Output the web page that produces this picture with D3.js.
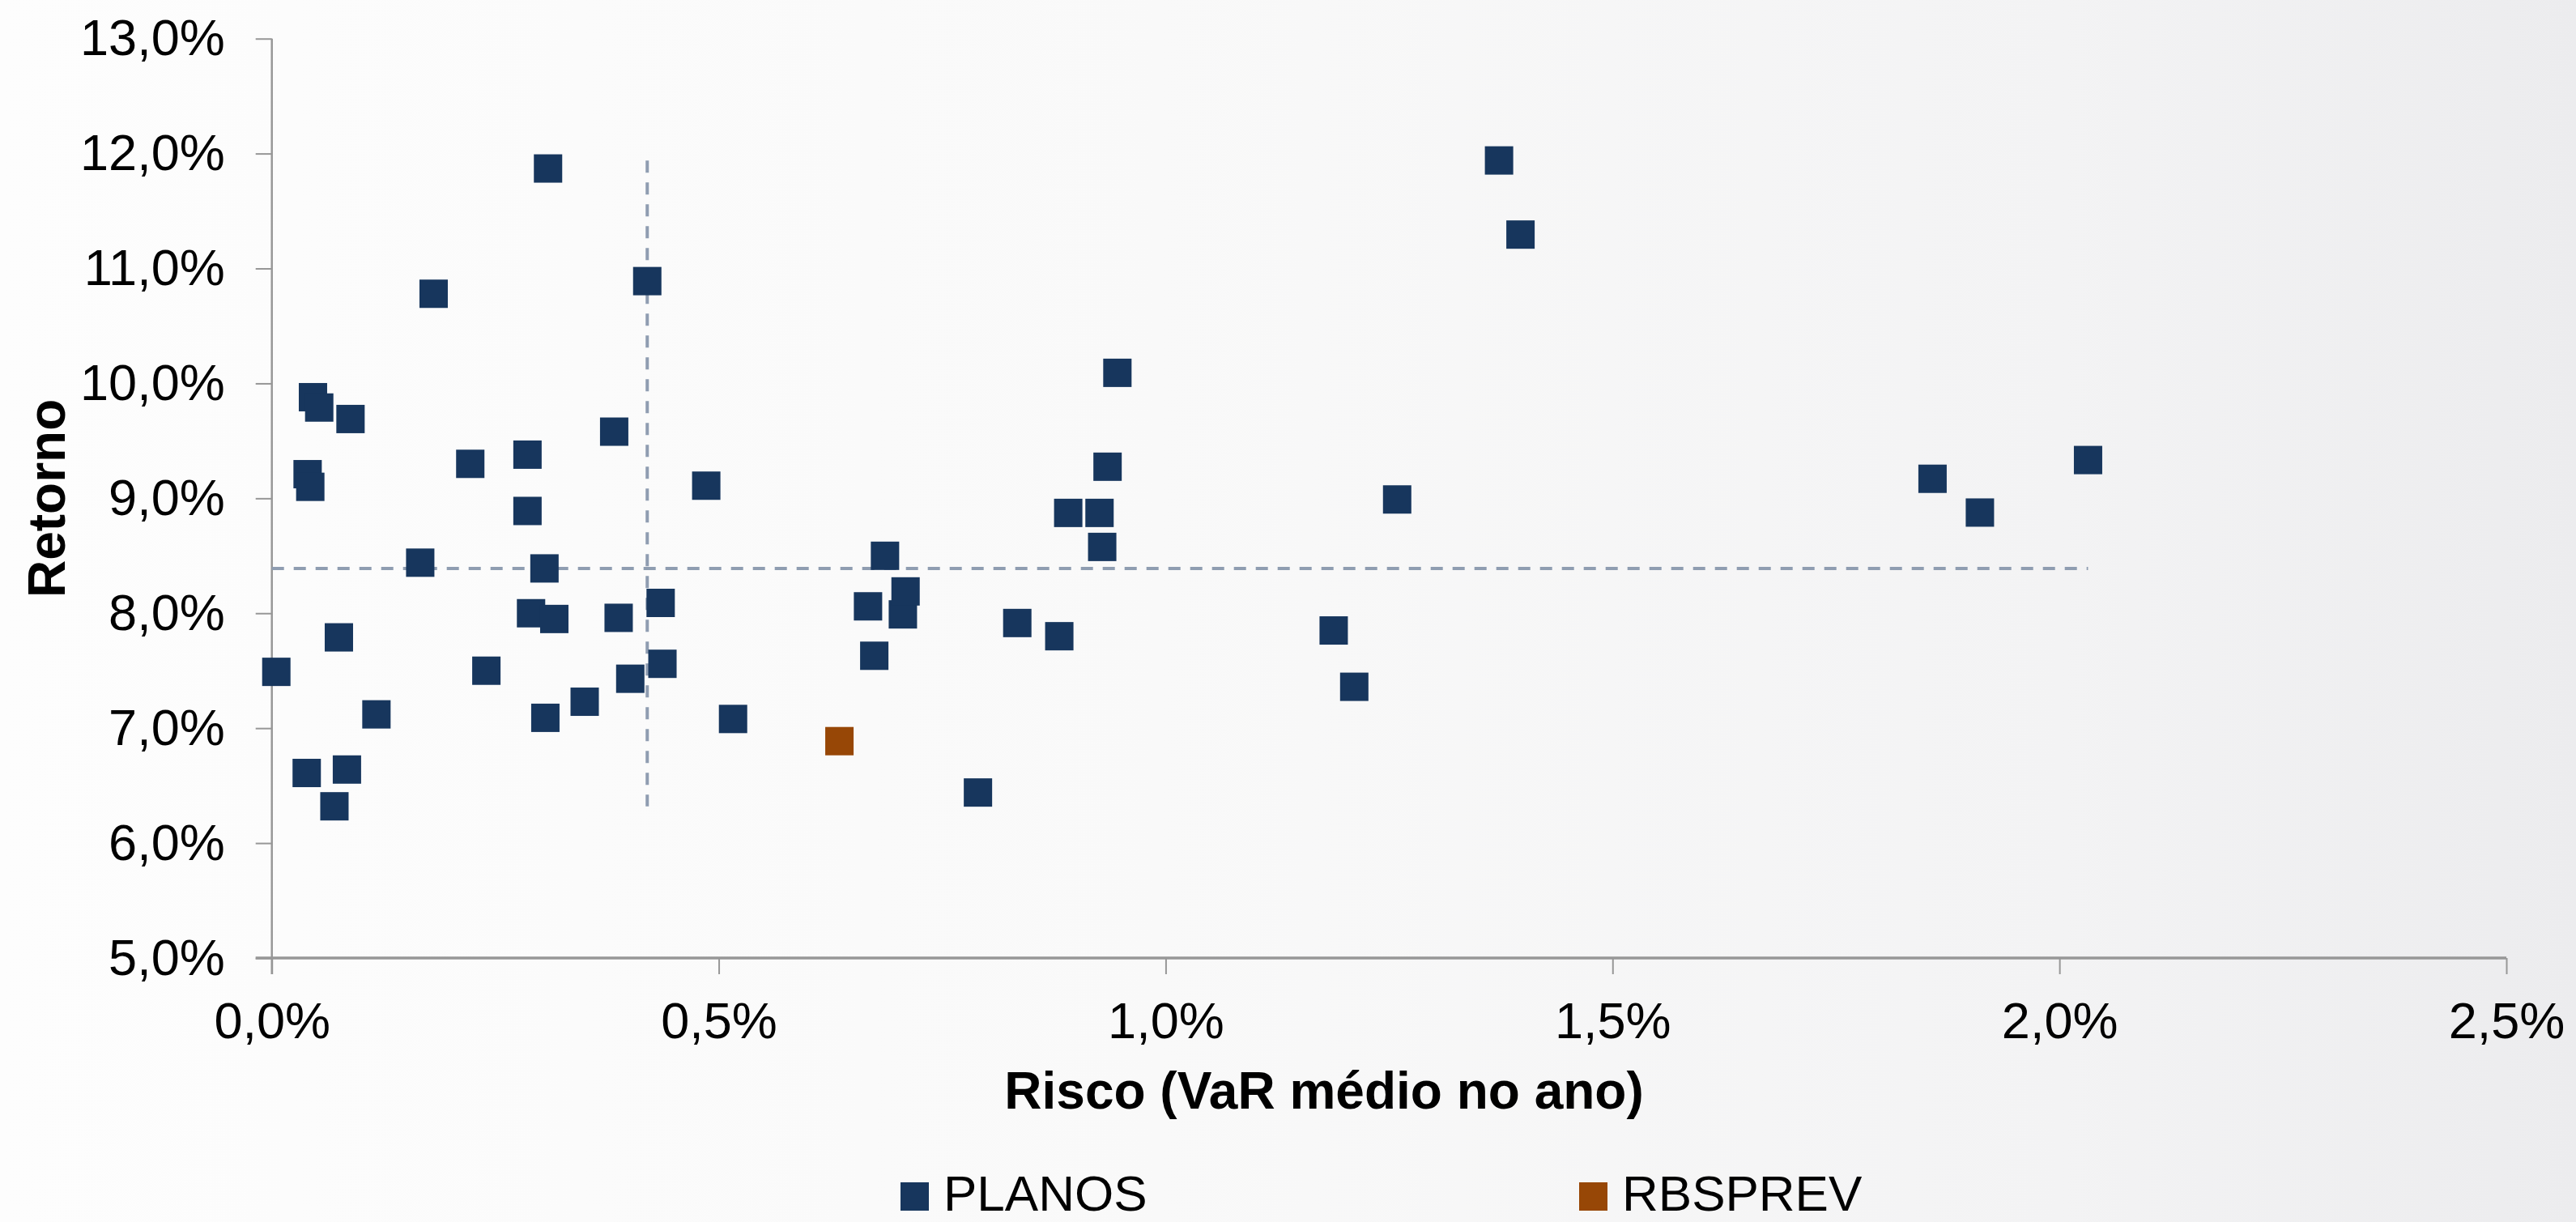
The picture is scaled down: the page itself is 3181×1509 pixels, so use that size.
<!DOCTYPE html>
<html>
<head>
<meta charset="utf-8">
<script src="https://cdn.jsdelivr.net/npm/d3@7"></script>
<style>
  html, body { margin: 0; padding: 0; background: #fcfcfc; }
  svg { display: block; }
  text { font-family: "Liberation Sans", Arial, sans-serif; fill: #000; }
</style>
</head>
<body>
<svg id="chart" width="3181" height="1509"></svg>
<script>
// ---- Data (risk = VaR médio no ano, %, return = Retorno, %) ----
const planosRisk = [
  0.005, 0.039, 0.040, 0.043, 0.046, 0.053, 0.070, 0.075, 0.084, 0.088,
  0.117, 0.166, 0.181, 0.222, 0.240, 0.286, 0.286, 0.290, 0.305, 0.306,
  0.309, 0.316, 0.350, 0.383, 0.388, 0.401, 0.420, 0.435, 0.437, 0.486,
  0.516, 0.667, 0.674, 0.686, 0.706, 0.709, 0.790, 0.834, 0.881, 0.891,
  0.926, 0.929, 0.935, 0.946, 1.188, 1.211, 1.259, 1.373, 1.397, 1.858,
  1.911, 2.032
];
const planosReturn = [
  7.49, 6.61, 9.21, 9.10, 9.88, 9.79, 6.32, 7.79, 6.64, 9.69,
  7.12, 8.44, 10.78, 9.30, 7.50, 9.38, 8.89, 8.00, 8.39, 7.09,
  11.87, 7.95, 7.23, 9.58, 7.96, 7.43, 10.89, 8.09, 7.56, 9.11,
  7.08, 8.06, 7.63, 8.50, 7.99, 8.19, 6.44, 7.915, 7.80, 8.873,
  8.873, 8.577, 9.275, 10.092, 7.85, 7.36, 8.99, 11.94, 11.295, 9.17,
  8.876, 9.333
];
const rbsprevRisk = [0.635];
const rbsprevReturn = [6.887];

const seriesNames = ["PLANOS", "RBSPREV"];
const seriesColors = ["#17365d", "#974706"];

// reference (dashed) lines
const refRisk = 0.42;
const refReturn = 8.39;

const xTicks = [0, 0.5, 1.0, 1.5, 2.0, 2.5];
const yTicks = [5, 6, 7, 8, 9, 10, 11, 12, 13];
const xTitle = "Risco (VaR médio no ano)";
const yTitle = "Retorno";

// ---- Layout ----
const W = 3181, H = 1509;
const plot = { left: 335.7, right: 3095, top: 47.7, bottom: 1183 };
const fmt = v => d3.format(".1f")(v).replace(".", ",") + "%";

const svg = d3.select("#chart");

// background gradient
const defs = svg.append("defs");
const grad = defs.append("linearGradient").attr("id", "bg")
  .attr("x1", "0").attr("y1", "0").attr("x2", "1").attr("y2", "0");
grad.append("stop").attr("offset", "0").attr("stop-color", "#fdfdfd");
grad.append("stop").attr("offset", "0.45").attr("stop-color", "#f9f9f9");
grad.append("stop").attr("offset", "0.8").attr("stop-color", "#f3f3f4");
grad.append("stop").attr("offset", "1").attr("stop-color", "#ececee");
svg.append("rect").attr("width", W).attr("height", H).attr("fill", "url(#bg)");

const x = d3.scaleLinear().domain([0, 2.5]).range([plot.left, plot.right]);
const y = d3.scaleLinear().domain([5, 13]).range([plot.bottom, plot.top]);

// axes
const axisColor = "#979797";
const xAxis = svg.append("g")
  .attr("transform", `translate(0,${plot.bottom})`)
  .call(d3.axisBottom(x).tickValues(xTicks).tickFormat(fmt)
        .tickSizeInner(20).tickSizeOuter(0).tickPadding(34));
const yAxis = svg.append("g")
  .attr("transform", `translate(${plot.left},0)`)
  .call(d3.axisLeft(y).tickValues(yTicks).tickFormat(fmt)
        .tickSizeInner(20).tickSizeOuter(0).tickPadding(38));

[xAxis, yAxis].forEach(g => {
  g.selectAll(".tick line").attr("stroke", axisColor).attr("stroke-width", 2);
  g.selectAll(".tick text")
    .style("font-family", '"Liberation Sans", Arial, sans-serif')
    .style("font-size", "63px").attr("fill", "#000");
});
// extend y-axis line down through x tick length, x-axis left through y tick length
yAxis.select("path.domain").attr("d", `M0,${plot.top}V${plot.bottom + 20}`)
  .attr("stroke", axisColor).attr("stroke-width", 2.5);
xAxis.select("path.domain").attr("d", `M${plot.left - 20},0H${plot.right}`)
  .attr("stroke", axisColor).attr("stroke-width", 3.5);

// dashed reference lines
const allReturn = planosReturn.concat(rbsprevReturn);
const allRisk = planosRisk.concat(rbsprevRisk);
const retExt = d3.extent(allReturn);
const riskExt = d3.extent(allRisk);
const dashStyle = g => g.attr("stroke", "#8f9db1").attr("stroke-width", 4)
  .attr("stroke-dasharray", "15,12").attr("fill", "none");
svg.append("line")
  .attr("x1", x(0)).attr("x2", x(riskExt[1]))
  .attr("y1", y(refReturn)).attr("y2", y(refReturn))
  .call(dashStyle);
svg.append("line")
  .attr("x1", x(refRisk)).attr("x2", x(refRisk))
  .attr("y1", y(retExt[1])).attr("y2", y(retExt[0]))
  .call(dashStyle);

// markers
const S = 35;
const planos = planosRisk.map((r, i) => ({ r, v: planosReturn[i] }));
const rbs = rbsprevRisk.map((r, i) => ({ r, v: rbsprevReturn[i] }));
svg.append("g").selectAll("rect").data(planos).join("rect")
  .attr("x", d => x(d.r) - S / 2).attr("y", d => y(d.v) - S / 2)
  .attr("width", S).attr("height", S).attr("fill", seriesColors[0]);
svg.append("g").selectAll("rect").data(rbs).join("rect")
  .attr("x", d => x(d.r) - S / 2).attr("y", d => y(d.v) - S / 2)
  .attr("width", S).attr("height", S).attr("fill", seriesColors[1]);

// axis titles
svg.append("text").attr("x", 1635).attr("y", 1369)
  .attr("text-anchor", "middle").style("font-size", "64px").style("font-weight", "bold")
  .text(xTitle);
svg.append("text")
  .attr("transform", `translate(80,${(plot.top + plot.bottom) / 2}) rotate(-90)`)
  .attr("text-anchor", "middle").style("font-size", "64px").style("font-weight", "bold")
  .text(yTitle);

// legend
const legendX = [1112, 1950];
const lg = svg.append("g").selectAll("g").data(seriesNames).join("g")
  .attr("transform", (d, i) => `translate(${legendX[i]},1460)`);
lg.append("rect").attr("width", 35).attr("height", 35)
  .attr("fill", (d, i) => seriesColors[i]);
lg.append("text").attr("x", 53).attr("y", 35)
  .style("font-size", "62px").text(d => d);
</script>
</body>
</html>
